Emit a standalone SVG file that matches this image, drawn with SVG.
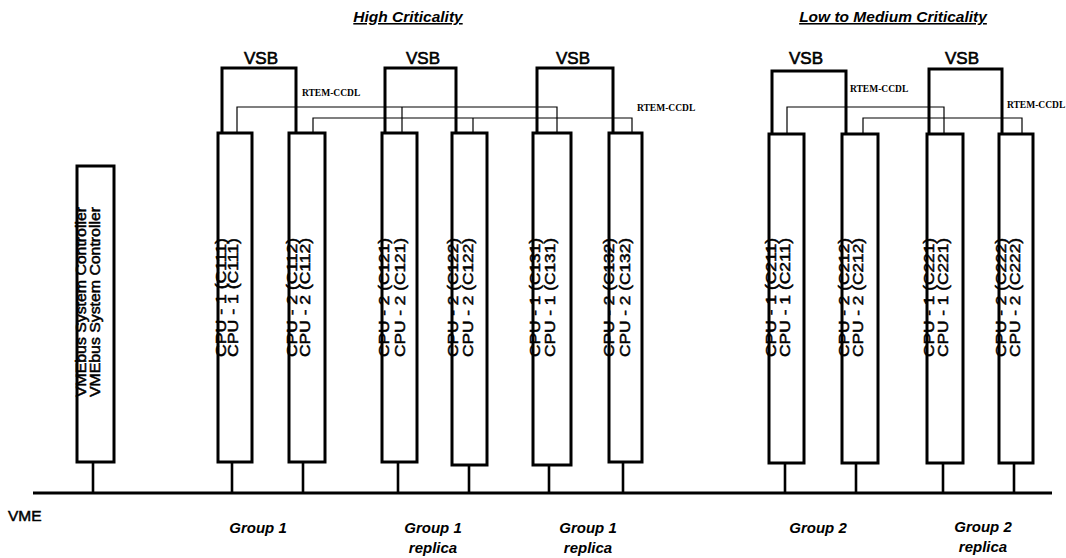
<svg xmlns="http://www.w3.org/2000/svg" width="1066" height="558" viewBox="0 0 1066 558">
<style>
.board{fill:#fff;stroke:#000;stroke-width:3}
.vsb{fill:none;stroke:#000;stroke-width:3}
.ccdl{fill:none;stroke:#000;stroke-width:1.2}
.stub{stroke:#000;stroke-width:2.6}
.bus{stroke:#000;stroke-width:3}
.lbl{font-family:"Liberation Sans",Arial,sans-serif;font-size:15px;fill:#000;stroke:#000;stroke-width:0.5}
.vsbt{font-family:"Liberation Sans",Arial,sans-serif;font-size:17px;fill:#000;stroke:#000;stroke-width:0.6;text-anchor:middle}
.rtem{font-family:"Liberation Serif","Times New Roman",serif;font-size:9.5px;font-weight:bold;fill:#000}
.title{font-family:"Liberation Sans",Arial,sans-serif;font-size:15.5px;font-weight:bold;font-style:italic;text-decoration:underline;fill:#000;text-anchor:middle}
.grp{font-family:"Liberation Sans",Arial,sans-serif;font-size:15px;font-weight:bold;font-style:italic;fill:#000;text-anchor:middle}
</style>
<rect width="1066" height="558" fill="#fff"/>
<text class="title" x="408" y="22">High Criticality</text>
<text class="title" x="893" y="22">Low to Medium Criticality</text>
<g id="connectors">
<line class="bus" x1="33" y1="493" x2="1052" y2="493"/>
<line class="stub" x1="93" y1="462" x2="93" y2="493"/>
<line class="stub" x1="232" y1="462" x2="232" y2="493"/>
<line class="stub" x1="303" y1="462" x2="303" y2="493"/>
<line class="stub" x1="398" y1="462" x2="398" y2="493"/>
<line class="stub" x1="469" y1="465" x2="469" y2="493"/>
<line class="stub" x1="549" y1="465" x2="549" y2="493"/>
<line class="stub" x1="623" y1="462" x2="623" y2="493"/>
<line class="stub" x1="785" y1="463" x2="785" y2="493"/>
<line class="stub" x1="856" y1="463" x2="856" y2="493"/>
<line class="stub" x1="943" y1="463" x2="943" y2="493"/>
<line class="stub" x1="1014" y1="463" x2="1014" y2="493"/>
<path class="vsb" d="M222,133 V68 H296 V133"/>
<path class="vsb" d="M385,133 V68 H456 V133"/>
<path class="vsb" d="M537,133 V68 H613 V133"/>
<path class="vsb" d="M772,134 V71 H846 V134"/>
<path class="vsb" d="M929,134 V69 H1002 V134"/>
<path class="ccdl" d="M237,133 V107 H557 V133 M402,107 V133"/>
<path class="ccdl" d="M313,133 V118 H632 V133 M473,118 V133"/>
<path class="ccdl" d="M787,134 V107 H944 V134"/>
<path class="ccdl" d="M863,134 V118 H1022 V134"/>
<text class="vsbt" x="261" y="64">VSB</text>
<text class="vsbt" x="423" y="64">VSB</text>
<text class="vsbt" x="573" y="64">VSB</text>
<text class="vsbt" x="806" y="64">VSB</text>
<text class="vsbt" x="962" y="64">VSB</text>
<text class="rtem" x="302" y="96">RTEM-CCDL</text>
<text class="rtem" x="637" y="111">RTEM-CCDL</text>
<text class="rtem" x="850" y="92">RTEM-CCDL</text>
<text class="rtem" x="1007" y="108">RTEM-CCDL</text>
</g>
<g id="vme-controller">
<rect class="board" x="77" y="166" width="37" height="296"/>
<text class="lbl" transform="translate(86,397) rotate(-90)" textLength="190" lengthAdjust="spacingAndGlyphs">VMEbus System Controller</text>
<text class="lbl" transform="translate(100,397) rotate(-90)" textLength="190" lengthAdjust="spacingAndGlyphs">VMEbus System Controller</text>
</g>
<g id="c111">
<rect class="board" x="218" y="133" width="34" height="329"/>
<text class="lbl" transform="translate(226,357) rotate(-90)" textLength="119" lengthAdjust="spacingAndGlyphs">CPU - 1 (C111)</text>
<text class="lbl" transform="translate(238,357) rotate(-90)" textLength="119" lengthAdjust="spacingAndGlyphs">CPU - 1 (C111)</text>
</g>
<g id="c112">
<rect class="board" x="289" y="133" width="36" height="329"/>
<text class="lbl" transform="translate(297,357) rotate(-90)" textLength="119" lengthAdjust="spacingAndGlyphs">CPU - 2 (C112)</text>
<text class="lbl" transform="translate(310,357) rotate(-90)" textLength="119" lengthAdjust="spacingAndGlyphs">CPU - 2 (C112)</text>
</g>
<g id="c121">
<rect class="board" x="382" y="133" width="35" height="329"/>
<text class="lbl" transform="translate(389,357) rotate(-90)" textLength="119" lengthAdjust="spacingAndGlyphs">CPU - 2 (C121)</text>
<text class="lbl" transform="translate(405,357) rotate(-90)" textLength="119" lengthAdjust="spacingAndGlyphs">CPU - 2 (C121)</text>
</g>
<g id="c122">
<rect class="board" x="452" y="133" width="35" height="332"/>
<text class="lbl" transform="translate(458,357) rotate(-90)" textLength="119" lengthAdjust="spacingAndGlyphs">CPU - 2 (C122)</text>
<text class="lbl" transform="translate(473,357) rotate(-90)" textLength="119" lengthAdjust="spacingAndGlyphs">CPU - 2 (C122)</text>
</g>
<g id="c131">
<rect class="board" x="533" y="133" width="38" height="332"/>
<text class="lbl" transform="translate(540,357) rotate(-90)" textLength="119" lengthAdjust="spacingAndGlyphs">CPU - 1 (C131)</text>
<text class="lbl" transform="translate(555,357) rotate(-90)" textLength="119" lengthAdjust="spacingAndGlyphs">CPU - 1 (C131)</text>
</g>
<g id="c132">
<rect class="board" x="609" y="133" width="33" height="329"/>
<text class="lbl" transform="translate(614,357) rotate(-90)" textLength="119" lengthAdjust="spacingAndGlyphs">CPU - 2 (C132)</text>
<text class="lbl" transform="translate(630,357) rotate(-90)" textLength="119" lengthAdjust="spacingAndGlyphs">CPU - 2 (C132)</text>
</g>
<g id="c211">
<rect class="board" x="769" y="134" width="35" height="329"/>
<text class="lbl" transform="translate(776,357) rotate(-90)" textLength="119" lengthAdjust="spacingAndGlyphs">CPU - 1 (C211)</text>
<text class="lbl" transform="translate(790,357) rotate(-90)" textLength="119" lengthAdjust="spacingAndGlyphs">CPU - 1 (C211)</text>
</g>
<g id="c212">
<rect class="board" x="842" y="134" width="36" height="329"/>
<text class="lbl" transform="translate(849,357) rotate(-90)" textLength="119" lengthAdjust="spacingAndGlyphs">CPU - 2 (C212)</text>
<text class="lbl" transform="translate(863,357) rotate(-90)" textLength="119" lengthAdjust="spacingAndGlyphs">CPU - 2 (C212)</text>
</g>
<g id="c221">
<rect class="board" x="927" y="134" width="36" height="329"/>
<text class="lbl" transform="translate(934,357) rotate(-90)" textLength="119" lengthAdjust="spacingAndGlyphs">CPU - 1 (C221)</text>
<text class="lbl" transform="translate(948,357) rotate(-90)" textLength="119" lengthAdjust="spacingAndGlyphs">CPU - 1 (C221)</text>
</g>
<g id="c222">
<rect class="board" x="999" y="134" width="34" height="329"/>
<text class="lbl" transform="translate(1006,357) rotate(-90)" textLength="119" lengthAdjust="spacingAndGlyphs">CPU - 2 (C222)</text>
<text class="lbl" transform="translate(1020,357) rotate(-90)" textLength="119" lengthAdjust="spacingAndGlyphs">CPU - 2 (C222)</text>
</g>
<text class="lbl" x="8" y="521" style="font-size:15.5px">VME</text>
<text class="grp" x="258" y="533">Group 1</text>
<text class="grp" x="433" y="533">Group 1</text>
<text class="grp" x="433" y="553">replica</text>
<text class="grp" x="588" y="533">Group 1</text>
<text class="grp" x="588" y="553">replica</text>
<text class="grp" x="818" y="533">Group 2</text>
<text class="grp" x="983" y="532">Group 2</text>
<text class="grp" x="983" y="552">replica</text>
</svg>
